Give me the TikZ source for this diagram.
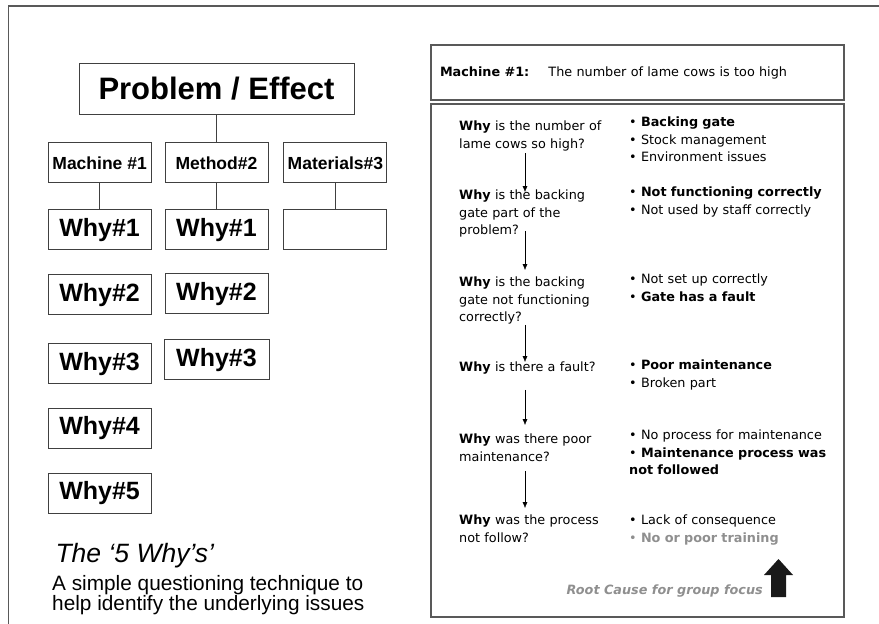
\documentclass[tikz,border=0pt]{standalone}
\usepackage{fontspec}
\setmainfont{Liberation Sans}
\newfontfamily\panelfont{DejaVu Sans}
\usetikzlibrary{positioning, arrows.meta}
\definecolor{framegray}{rgb}{0.35, 0.35, 0.35}
\definecolor{linegray}{rgb}{0.25, 0.25, 0.25}
\definecolor{rootgray}{rgb}{0.56, 0.56, 0.56}
\tikzstyle{effect}=[rectangle, draw=linegray, line width=0.9pt, minimum width=275pt, minimum height=51pt, text centered, font=\fontsize{31}{36}\selectfont\bfseries]
\tikzstyle{category}=[rectangle, draw=linegray, line width=0.9pt, minimum width=103pt, minimum height=40pt, inner sep=1pt, text centered, font=\fontsize{17.5}{20}\selectfont\bfseries]
\tikzstyle{why}=[rectangle, draw=linegray, line width=0.9pt, minimum width=103pt, minimum height=40pt, text centered, font=\fontsize{25}{30}\selectfont\bfseries]
\tikzstyle{link}=[linegray, line width=0.9pt]
\tikzstyle{panel}=[rectangle, draw=framegray, line width=1.2pt]
\tikzstyle{question}=[anchor=north west, inner sep=0pt, align=left, text width=160pt, font=\panelfont\fontsize{12.8}{17.5}\selectfont]
\tikzstyle{answer}=[anchor=north west, inner sep=0pt, align=left, text width=212pt, font=\panelfont\fontsize{12.8}{17.5}\selectfont]
\tikzstyle{arrow}=[thin, ->, >={Latex[length=6pt, width=5pt]}]

\begin{document}
\begin{tikzpicture}[x=1pt, y=-1pt, node distance=24pt]
		\useasboundingbox (0,0) rectangle (879,624);
		\draw [framegray, line width=1.4pt] (8.5,624) -- (8.5,6) -- (879,6);

		% fishbone side
		\node (effect) [effect] at (216.5,88.5) {Problem / Effect};
		\node (method) [category, below=28pt of effect] {Method\#2};
		\node (machine) [category, left=13pt of method] {Machine \#1};
		\node (materials) [category, right=15pt of method] {Materials\#3};

		\node (machinewhy1) [why, below=26pt of machine] {Why\#1};
		\node (machinewhy2) [why, below=of machinewhy1] {Why\#2};
		\node (machinewhy3) [why, below=28pt of machinewhy2] {Why\#3};
		\node (machinewhy4) [why, below=of machinewhy3] {Why\#4};
		\node (machinewhy5) [why, below=of machinewhy4] {Why\#5};

		\node (methodwhy1) [why, below=26pt of method] {Why\#1};
		\node (methodwhy2) [why, below=23pt of methodwhy1] {Why\#2};
		\node (methodwhy3) [why, below=25pt of methodwhy2, minimum width=105pt] {Why\#3};

		\node (materialswhy1) [why, below=26pt of materials] {};

		\node (title) [anchor=base west, font=\fontsize{26.5}{30}\selectfont\itshape] at (52,562) {The `5 Why's'};
		\node (subtitle) [anchor=north west, inner sep=0pt, align=left, font=\fontsize{20.8}{20}\selectfont] at (52,575) {A simple questioning technique to\\help identify the underlying issues};

		\draw [link] (effect) -- (method);
		\draw [link] (machine) -- (machinewhy1);
		\draw [link] (method) -- (methodwhy1);
		\draw [link] (materials) -- (materialswhy1);

		% five whys panel
		\node (header) [panel, minimum width=413pt, minimum height=55pt, text width=395pt, inner xsep=9pt, align=left, font=\panelfont\fontsize{12.8}{15}\selectfont] at (637.5,72.5) {\textbf{Machine \#1:}\quad{} The number of lame cows is too high};
		\node (whybox) [panel, minimum width=413pt, minimum height=513pt] at (637.5,360.5) {};

		\node (q1) [question] at (459,121) {\textbf{Why} is the number of\\lame cows so high?};
		\node (q2) [question] at (459,190) {\textbf{Why} is the backing\\gate part of the\\problem?};
		\node (q3) [question] at (459,277) {\textbf{Why} is the backing\\gate not functioning\\correctly?};
		\node (q4) [question] at (459,362) {\textbf{Why} is there a fault?};
		\node (q5) [question] at (459,434) {\textbf{Why} was there poor\\maintenance?};
		\node (q6) [question] at (459,515) {\textbf{Why} was the process\\not follow?};

		\node (a1) [answer] at (629,117) {\textbullet\ \textbf{Backing gate}\\\textbullet\ Stock management\\\textbullet\ Environment issues};
		\node (a2) [answer] at (629,187) {\textbullet\ \textbf{Not functioning correctly}\\\textbullet\ Not used by staff correctly};
		\node (a3) [answer] at (629,274) {\textbullet\ Not set up correctly\\\textbullet\ \textbf{Gate has a fault}};
		\node (a4) [answer] at (629,360) {\textbullet\ \textbf{Poor maintenance}\\\textbullet\ Broken part};
		\node (a5) [answer] at (629,430) {\textbullet\ No process for maintenance\\\textbullet\ \textbf{Maintenance process was}\\\textbf{not followed}};
		\node (a6) [answer] at (629,515) {\textbullet\ Lack of consequence\\{\color{rootgray}\textbullet\ \textbf{No or poor training}}};

		\node (rootcause) [anchor=base east, inner sep=0pt, text=rootgray, font=\panelfont\fontsize{12.8}{15}\selectfont\bfseries\itshape] at (763,594) {Root Cause for group focus};
		\fill [black!90] (771,597) -- (786,597) -- (786,575) -- (793,575) -- (778.5,559) -- (764,575) -- (771,575) -- cycle;

		\coordinate (arrowx) at (525,0);
		\draw [arrow, shorten <=2pt, shorten >=-2pt] (q1.south -| arrowx) -- (q2.north -| arrowx);
		\draw [arrow, shorten <=-7pt, shorten >=7pt] (q2.south -| arrowx) -- (q3.north -| arrowx);
		\draw [arrow] (q3.south -| arrowx) -- (q4.north -| arrowx);
		\draw [arrow, shorten <=15pt, shorten >=9pt] (q4.south -| arrowx) -- (q5.north -| arrowx);
		\draw [arrow, shorten <=9pt, shorten >=7pt] (q5.south -| arrowx) -- (q6.north -| arrowx);
	\end{tikzpicture}
\end{document}
